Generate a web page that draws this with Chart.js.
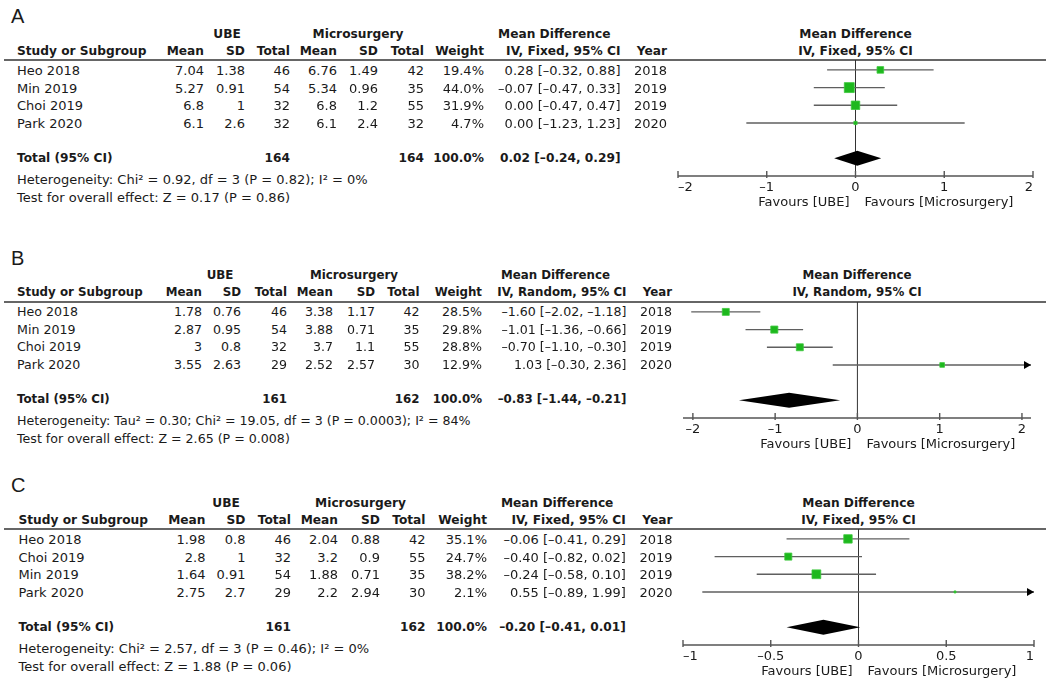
<!DOCTYPE html>
<html lang="en">
<head>
  <meta charset="UTF-8" />
  <title>UBE vs Microsurgery – forest plots</title>
  <script src="https://cdn.jsdelivr.net/npm/chart.js@4.4.3/dist/chart.umd.min.js"></script>
  <style>
    html, body { margin: 0; padding: 0; background: #fff; }
    #page {
      position: relative;
      width: 1053px;
      height: 684px;
      overflow: hidden;
      font-family: "DejaVu Sans", sans-serif;
      color: #1a1a1a;
    }
    .t { position: absolute; white-space: nowrap; line-height: 1; }
    .b { font-weight: bold; }
    .lbl { position: absolute; line-height: 1; font-family: "Liberation Sans", Arial, sans-serif; font-size: 20px; }
    .rule { position: absolute; left: 4px; width: 1042px; height: 1.6px; background: #666; }
    canvas { position: absolute; left: 660px; }
  </style>
</head>
<body>
  <div id="page"></div>

  <script>
    // ---- A ----
    const studiesA = ['Heo 2018', 'Min 2019', 'Choi 2019', 'Park 2020'];
    const ubeMeanA = [7.04, 5.27, 6.8, 6.1];
    const ubeSdA = [1.38, 0.91, 1, 2.6];
    const ubeNA = [46, 54, 32, 32];
    const micMeanA = [6.76, 5.34, 6.8, 6.1];
    const micSdA = [1.49, 0.96, 1.2, 2.4];
    const micNA = [42, 35, 55, 32];
    const weightA = [19.4, 44.0, 31.9, 4.7];
    const mdA = [0.28, -0.07, 0.00, 0.00];
    const loA = [-0.32, -0.47, -0.47, -1.23];
    const hiA = [0.88, 0.33, 0.47, 1.23];
    const yearA = [2018, 2019, 2019, 2020];
    const totalsA = [164, 164];
    const pooledA = [0.02, -0.24, 0.29];
    const ticksA = [-2, -1, 0, 1, 2];
    const methodA = 'IV, Fixed, 95% CI';
    const heteroA = 'Heterogeneity: Chi² = 0.92, df = 3 (P = 0.82); I² = 0%';
    const effectA = 'Test for overall effect: Z = 0.17 (P = 0.86)';

    // ---- B ----
    const studiesB = ['Heo 2018', 'Min 2019', 'Choi 2019', 'Park 2020'];
    const ubeMeanB = [1.78, 2.87, 3, 3.55];
    const ubeSdB = [0.76, 0.95, 0.8, 2.63];
    const ubeNB = [46, 54, 32, 29];
    const micMeanB = [3.38, 3.88, 3.7, 2.52];
    const micSdB = [1.17, 0.71, 1.1, 2.57];
    const micNB = [42, 35, 55, 30];
    const weightB = [28.5, 29.8, 28.8, 12.9];
    const mdB = [-1.60, -1.01, -0.70, 1.03];
    const loB = [-2.02, -1.36, -1.10, -0.30];
    const hiB = [-1.18, -0.66, -0.30, 2.36];
    const yearB = [2018, 2019, 2019, 2020];
    const totalsB = [161, 162];
    const pooledB = [-0.83, -1.44, -0.21];
    const ticksB = [-2, -1, 0, 1, 2];
    const methodB = 'IV, Random, 95% CI';
    const heteroB = 'Heterogeneity: Tau² = 0.30; Chi² = 19.05, df = 3 (P = 0.0003); I² = 84%';
    const effectB = 'Test for overall effect: Z = 2.65 (P = 0.008)';

    // ---- C ----
    const studiesC = ['Heo 2018', 'Choi 2019', 'Min 2019', 'Park 2020'];
    const ubeMeanC = [1.98, 2.8, 1.64, 2.75];
    const ubeSdC = [0.8, 1, 0.91, 2.7];
    const ubeNC = [46, 32, 54, 29];
    const micMeanC = [2.04, 3.2, 1.88, 2.2];
    const micSdC = [0.88, 0.9, 0.71, 2.94];
    const micNC = [42, 55, 35, 30];
    const weightC = [35.1, 24.7, 38.2, 2.1];
    const mdC = [-0.06, -0.40, -0.24, 0.55];
    const loC = [-0.41, -0.82, -0.58, -0.89];
    const hiC = [0.29, 0.02, 0.10, 1.99];
    const yearC = [2018, 2019, 2019, 2020];
    const totalsC = [161, 162];
    const pooledC = [-0.20, -0.41, 0.01];
    const ticksC = [-1, -0.5, 0, 0.5, 1];
    const methodC = 'IV, Fixed, 95% CI';
    const heteroC = 'Heterogeneity: Chi² = 2.57, df = 3 (P = 0.46); I² = 0%';
    const effectC = 'Test for overall effect: Z = 1.88 (P = 0.06)';

    // layout per panel (pixels), kept apart from the data
    const layoutA = { L: 60, cols: [17, 204, 245, 290, 337, 378, 424, 484, 620.5, 667], mdHead: 610.5, ube: 227, mic: 358, padL: 18, padR: 20, x: [-2, 2], sq: 1.5, fs: 1 };
    const layoutB = { L: 302, cols: [17, 202, 241, 287, 333, 375, 419.5, 482, 626.5, 672], mdHead: 610, ube: 220, mic: 354, padL: 23, padR: 22, x: [-2.12, 2.11], sq: 1.3, fs: 0.97 };
    const layoutC = { L: 529, cols: [18.5, 205.5, 245.5, 291, 338, 380, 425.5, 487, 625.8, 672.5], mdHead: 613.4, ube: 226, mic: 360.5, padL: 23, padR: 19, x: [-1, 1], sq: 1.42, fs: 1 };

    const REG = 13, BOLD = 12.2, AREA_H = 116;
    const page = document.getElementById('page');
    const dash = s => String(s).replace('-', '–');
    const f2 = v => dash(v.toFixed(2));

    function put(text, x, y, align, bold, size) {
      const d = document.createElement('div');
      d.className = 't' + (bold ? ' b' : '');
      d.textContent = text;
      d.style.left = x + 'px';
      d.style.top = y + 'px';
      d.style.fontSize = size + 'px';
      const tx = align === 'right' ? '-100%' : align === 'center' ? '-50%' : '0';
      d.style.transform = 'translate(' + tx + ', -50%)';
      page.appendChild(d);
    }

    function forestPlugin(ticks, pooled, totRow, arrowRows) {
      return {
        id: 'forest',
        beforeDatasetsDraw(chart) {
          const { ctx, chartArea: a, scales: { x } } = chart;
          const x0 = x.getPixelForValue(0);
          ctx.save();
          ctx.strokeStyle = '#333';
          ctx.lineWidth = 1;
          ctx.beginPath();
          ctx.moveTo(x0, a.top);
          ctx.lineTo(x0, a.bottom);
          ctx.stroke();

          ctx.strokeStyle = '#555';
          ctx.lineWidth = 1.4;
          ctx.beginPath();
          ctx.moveTo(a.left, a.bottom);
          ctx.lineTo(a.right, a.bottom);
          ticks.forEach(t => {
            const px = x.getPixelForValue(t);
            ctx.moveTo(px, a.bottom - 5);
            ctx.lineTo(px, a.bottom + 2);
          });
          ctx.stroke();

          ctx.fillStyle = '#1a1a1a';
          ctx.font = REG + 'px "DejaVu Sans"';
          ctx.textBaseline = 'middle';
          ticks.forEach(t => {
            const px = x.getPixelForValue(t);
            const s = dash(t);
            const w = ctx.measureText(s).width;
            if (px - w / 2 < a.left - 1) { ctx.textAlign = 'left'; ctx.fillText(s, a.left, a.bottom + 12); }
            else if (px + w / 2 > a.right + 1) { ctx.textAlign = 'right'; ctx.fillText(s, a.right, a.bottom + 12); }
            else { ctx.textAlign = 'center'; ctx.fillText(s, px, a.bottom + 12); }
          });
          ctx.textAlign = 'right';
          ctx.fillText('Favours [UBE]', x0 - 6, a.bottom + 27);
          ctx.textAlign = 'left';
          ctx.fillText('Favours [Microsurgery]', x0 + 9, a.bottom + 27);
          ctx.restore();
        },
        afterDatasetsDraw(chart) {
          const { ctx, chartArea: a, scales: { x, y } } = chart;
          ctx.save();
          ctx.fillStyle = '#000';
          // arrows where a CI runs past the axis
          arrowRows.forEach(r => {
            const py = y.getPixelForValue(r);
            ctx.beginPath();
            ctx.moveTo(a.right, py);
            ctx.lineTo(a.right - 7, py - 4);
            ctx.lineTo(a.right - 7, py + 4);
            ctx.closePath();
            ctx.fill();
          });
          // pooled diamond
          const yc = y.getPixelForValue(totRow);
          ctx.beginPath();
          ctx.moveTo(x.getPixelForValue(pooled[1]), yc);
          ctx.lineTo(x.getPixelForValue(pooled[0]), yc - 7.5);
          ctx.lineTo(x.getPixelForValue(pooled[2]), yc);
          ctx.lineTo(x.getPixelForValue(pooled[0]), yc + 7.5);
          ctx.closePath();
          ctx.fill();
          ctx.restore();
        }
      };
    }

    function buildPanel(letter, p, lay) {
      const L = lay.L, c = lay.cols;
      const reg = REG * lay.fs, bold = BOLD * lay.fs;
      const n = p.studies.length;
      const rows = p.studies.map((s, i) => i + 1);
      const totRow = n + 2;

      const lbl = document.createElement('div');
      lbl.className = 'lbl';
      lbl.textContent = letter;
      lbl.style.left = '11px';
      lbl.style.top = (L - 44) + 'px';
      lbl.style.transform = 'translateY(-50%)';
      page.appendChild(lbl);

      const rule = document.createElement('div');
      rule.className = 'rule';
      rule.style.top = (L - 0.8) + 'px';
      page.appendChild(rule);

      const cv = document.createElement('canvas');
      cv.width = 393;
      cv.height = AREA_H + 42;
      cv.style.top = L + 'px';
      page.appendChild(cv);

      const datasets = [{
        type: 'scatter',
        order: 0,
        data: rows.map((r, i) => ({ x: p.md[i], y: r })),
        pointStyle: 'rect',
        pointRadius: p.weight.map(w => lay.sq * Math.sqrt(w) / Math.SQRT2),
        backgroundColor: '#1db81d',
        borderColor: '#3cc83c',
        borderWidth: 0.8
      }];
      const arrowRows = [];
      rows.forEach((r, i) => {
        if (p.hi[i] > lay.x[1]) arrowRows.push(r);
        datasets.push({
          type: 'line',
          order: 1,
          showLine: true,
          data: [{ x: Math.max(p.lo[i], lay.x[0]), y: r }, { x: Math.min(p.hi[i], lay.x[1]), y: r }],
          borderColor: '#5f5f5f',
          borderWidth: 1.4,
          pointRadius: 0
        });
      });

      const chart = new Chart(cv, {
        type: 'scatter',
        data: { datasets: datasets },
        options: {
          responsive: false,
          animation: false,
          events: [],
          layout: { autoPadding: false, padding: { left: lay.padL, right: lay.padR, top: 0, bottom: 42 } },
          scales: {
            x: { type: 'linear', min: lay.x[0], max: lay.x[1], display: false },
            y: { type: 'linear', min: 0.44, max: n + 3, reverse: true, display: false }
          },
          plugins: { legend: { display: false }, tooltip: { enabled: false } }
        },
        plugins: [forestPlugin(p.ticks, p.pooled, totRow, arrowRows)]
      });

      const rowY = r => L + chart.scales.y.getPixelForValue(r);
      const a = chart.chartArea;
      const mid = 660 + (a.left + a.right) / 2;

      // headers
      put('UBE', lay.ube, L - 26.5, 'center', true, bold);
      put('Microsurgery', lay.mic, L - 26.5, 'center', true, bold);
      put('Mean Difference', lay.mdHead, L - 26.5, 'right', true, bold);
      put('Mean Difference', mid, L - 26.5, 'center', true, bold);
      const heads = ['Mean', 'SD', 'Total', 'Mean', 'SD', 'Total', 'Weight', p.method, 'Year'];
      put('Study or Subgroup', c[0], L - 9, 'left', true, bold);
      heads.forEach((h, k) => put(h, c[k + 1], L - 9, 'right', true, bold));
      put(p.method, mid, L - 9, 'center', true, bold);

      // study rows
      rows.forEach((r, i) => {
        const y = rowY(r);
        const cells = [p.ubeMean[i], p.ubeSd[i], p.ubeN[i], p.micMean[i], p.micSd[i], p.micN[i],
          p.weight[i].toFixed(1) + '%', f2(p.md[i]) + ' [' + f2(p.lo[i]) + ', ' + f2(p.hi[i]) + ']', p.year[i]];
        put(p.studies[i], c[0], y, 'left', false, reg);
        cells.forEach((v, k) => put(String(v), c[k + 1], y, 'right', false, reg));
      });

      // total row
      const ty = rowY(totRow);
      put('Total (95% CI)', c[0], ty, 'left', true, bold);
      put(String(p.totals[0]), c[3], ty, 'right', true, bold);
      put(String(p.totals[1]), c[6], ty, 'right', true, bold);
      put('100.0%', c[7], ty, 'right', true, bold);
      put(f2(p.pooled[0]) + ' [' + f2(p.pooled[1]) + ', ' + f2(p.pooled[2]) + ']', c[8], ty, 'right', true, bold);

      put(p.hetero, c[0], L + 118.5, 'left', false, reg);
      put(p.effect, c[0], L + 136.5, 'left', false, reg);
    }

    buildPanel('A', {
      studies: studiesA, ubeMean: ubeMeanA, ubeSd: ubeSdA, ubeN: ubeNA, micMean: micMeanA, micSd: micSdA,
      micN: micNA, weight: weightA, md: mdA, lo: loA, hi: hiA, year: yearA, totals: totalsA,
      pooled: pooledA, ticks: ticksA, method: methodA, hetero: heteroA, effect: effectA
    }, layoutA);

    buildPanel('B', {
      studies: studiesB, ubeMean: ubeMeanB, ubeSd: ubeSdB, ubeN: ubeNB, micMean: micMeanB, micSd: micSdB,
      micN: micNB, weight: weightB, md: mdB, lo: loB, hi: hiB, year: yearB, totals: totalsB,
      pooled: pooledB, ticks: ticksB, method: methodB, hetero: heteroB, effect: effectB
    }, layoutB);

    buildPanel('C', {
      studies: studiesC, ubeMean: ubeMeanC, ubeSd: ubeSdC, ubeN: ubeNC, micMean: micMeanC, micSd: micSdC,
      micN: micNC, weight: weightC, md: mdC, lo: loC, hi: hiC, year: yearC, totals: totalsC,
      pooled: pooledC, ticks: ticksC, method: methodC, hetero: heteroC, effect: effectC
    }, layoutC);
  </script>
</body>
</html>
